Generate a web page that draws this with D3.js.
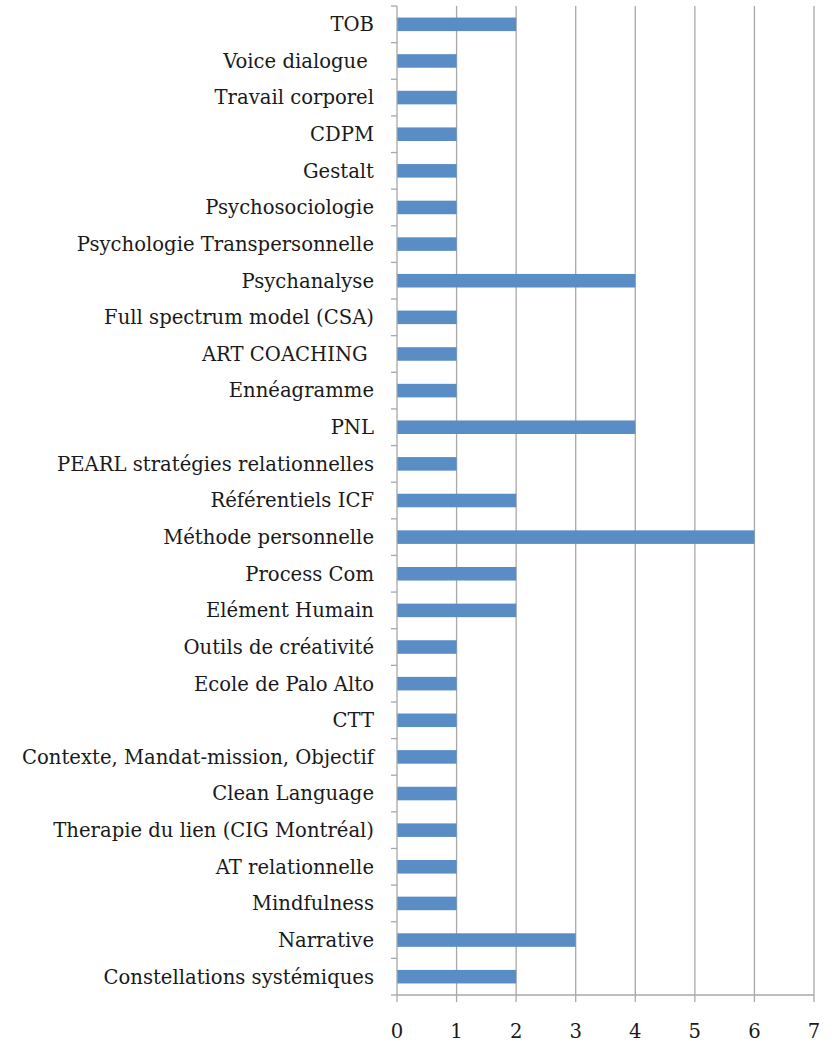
<!DOCTYPE html>
<html><head><meta charset="utf-8">
<script src="https://cdn.jsdelivr.net/npm/d3@7"></script>
<style>body{margin:0;background:#fff}svg{display:block}text{white-space:pre}</style>
</head><body>
<svg id="c" width="832" height="1045"></svg>
<script>
const categories = ["TOB","Voice dialogue ","Travail corporel","CDPM","Gestalt","Psychosociologie","Psychologie Transpersonnelle","Psychanalyse","Full spectrum model (CSA)","ART COACHING ","Ennéagramme","PNL","PEARL stratégies relationnelles","Référentiels ICF","Méthode personnelle","Process Com","Elément Humain","Outils de créativité","Ecole de Palo Alto","CTT","Contexte, Mandat-mission, Objectif","Clean Language","Therapie du lien (CIG Montréal)","AT relationnelle","Mindfulness","Narrative","Constellations systémiques"];
const values = [2,1,1,1,1,1,1,4,1,1,1,4,1,2,6,2,2,1,1,1,1,1,1,1,1,3,2];
const xTicks = [0,1,2,3,4,5,6,7];

const svg = d3.select("#c");
const L = 397, R = 814, T = 6, B = 995;
const x = d3.scaleLinear().domain([0,7]).range([L,R]);
const y = d3.scaleBand().domain(categories).range([T,B]).paddingInner(0.63).paddingOuter(0.315);
const font = "'DejaVu Serif', serif";
const probe = svg.append("text").attr("font-family",font).attr("font-size",20).text("Contexte, Mandat-mission, Objectif");
const w20 = probe.node().getComputedTextLength();
probe.remove();
const fs = 20*352/w20;
const grid = "#a8a8a8";

svg.append("g").selectAll("line").data(xTicks.slice(1)).join("line")
  .attr("x1",d=>x(d)).attr("x2",d=>x(d)).attr("y1",T).attr("y2",B)
  .attr("stroke",grid).attr("stroke-width",1.3);

svg.append("g").selectAll("rect").data(categories).join("rect")
  .attr("x",x(0)).attr("y",d=>y(d)).attr("height",y.bandwidth())
  .attr("width",(d,i)=>x(values[i])-x(0)).attr("fill","#5A8CC6");

const step = (B-T)/categories.length;
const yAx = svg.append("g");
yAx.append("line").attr("x1",L).attr("x2",L).attr("y1",T).attr("y2",B).attr("stroke",grid).attr("stroke-width",1.3);
yAx.selectAll("line.t").data(d3.range(categories.length+1)).join("line").attr("class","t")
  .attr("x1",L-6).attr("x2",L).attr("y1",i=>T+i*step).attr("y2",i=>T+i*step)
  .attr("stroke",grid).attr("stroke-width",1.3);
yAx.selectAll("text").data(categories).join("text")
  .attr("x",L-23).attr("y",d=>y(d)+y.bandwidth()/2).attr("dy","0.35em")
  .attr("text-anchor","end").attr("font-family",font).attr("font-size",fs).attr("fill","#1a1a1a")
  .text(d=>d);

const xAx = svg.append("g");
xAx.append("line").attr("x1",L).attr("x2",R).attr("y1",B).attr("y2",B).attr("stroke",grid).attr("stroke-width",1.3);
xAx.selectAll("line.t").data(xTicks).join("line").attr("class","t")
  .attr("x1",d=>x(d)).attr("x2",d=>x(d)).attr("y1",B).attr("y2",B+7)
  .attr("stroke",grid).attr("stroke-width",1.3);
xAx.selectAll("text").data(xTicks).join("text")
  .attr("x",d=>x(d)).attr("y",1031).attr("dy","0.35em").attr("text-anchor","middle")
  .attr("font-family",font).attr("font-size",fs).attr("fill","#1a1a1a").text(d=>d);
</script>
</body></html>
